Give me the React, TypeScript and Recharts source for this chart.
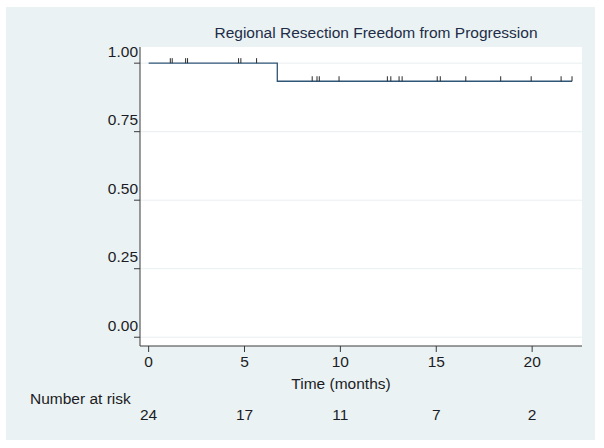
import React from 'react';
import { ComposedChart, Line, Scatter, XAxis, YAxis, CartesianGrid } from 'recharts';

// Kaplan-Meier step points (time in months, survival)
const stepTimes = [0, 6.71, 22.08];
const stepSurv = [1, 0.934, 0.934];

// censored observations (months)
const censorTimes = [
  1.13, 1.23, 1.93, 2.03, 4.69, 4.81, 5.63,
  8.53, 8.78, 8.9, 9.93, 12.45, 12.63, 13.06, 13.22,
  15.05, 15.21, 16.54, 18.36, 19.95, 21.51, 22.08,
];

const xTicks = [0, 5, 10, 15, 20];
const atRisk = [24, 17, 11, 7, 2];
const yTicks = [0, 0.25, 0.5, 0.75, 1];

const FONT = 'Arial, "Liberation Sans", sans-serif';
const BG = '#eaf2f3';
const TEXT = '#1c1c24';

const survAt = (t: number) => {
  let s = stepSurv[0];
  stepTimes.forEach((st, i) => {
    if (st <= t) s = stepSurv[i];
  });
  return s;
};

const kmData = stepTimes.map((t, i) => ({ t, s: stepSurv[i] }));
const censorData = censorTimes.map(t => ({ t, s: survAt(t) }));

const CensorMark = (props: any) => {
  const { cx, cy } = props;
  return <line x1={cx} x2={cx} y1={cy} y2={cy - 5} stroke="#2a2a2a" strokeWidth={1} />;
};

const XTick = (props: any) => {
  const { x, y, payload } = props;
  const idx = xTicks.indexOf(payload.value);
  return (
    <g>
      <text x={x} y={y} dy="0.71em" textAnchor="middle" fontSize={15.5} fontFamily={FONT} fill={TEXT}>
        {payload.value}
      </text>
      <text x={x} y={y + 53} dy="0.71em" textAnchor="middle" fontSize={15.5} fontFamily={FONT} fill={TEXT}>
        {idx >= 0 ? atRisk[idx] : ''}
      </text>
    </g>
  );
};

const YTick = (props: any) => {
  const { y, payload } = props;
  return (
    <text x={138} y={y - 12} dominantBaseline="central" textAnchor="end" fontSize={15.5} fontFamily={FONT} fill={TEXT}>
      {payload.value.toFixed(2)}
    </text>
  );
};

const label = (text: string, x: number, y: number, color: string, anchor: 'center' | 'left' = 'center') => (
  <div
    style={{
      position: 'absolute',
      left: x,
      top: y,
      transform: anchor === 'center' ? 'translate(-50%, -50%)' : 'translate(0, -50%)',
      fontFamily: FONT,
      fontSize: 15.5,
      color,
      whiteSpace: 'nowrap',
    }}
  >
    {text}
  </div>
);

export default function App() {
  return (
    <div style={{ position: 'absolute', left: 0, top: 0, width: 604, height: 448, background: '#ffffff' }}>
      <div style={{ position: 'absolute', left: 6, top: 7, width: 589, height: 433, background: BG }} />
      <div style={{ position: 'absolute', left: 0, top: 0 }}>
        <ComposedChart width={604} height={448} margin={{ top: 47, right: 22, bottom: 72, left: 80 }}>
          <CartesianGrid vertical={false} horizontalValues={yTicks} stroke="#e9eff1" fill="#ffffff" />
          <XAxis
            dataKey="t"
            type="number"
            domain={[-0.45, 22.6]}
            ticks={xTicks}
            allowDataOverflow
            height={30}
            tickSize={6}
            tickMargin={4}
            stroke="#3a3a3a"
            tick={<XTick />}
          />
          <YAxis
            dataKey="s"
            type="number"
            domain={[-0.032, 1.059]}
            ticks={yTicks}
            allowDataOverflow
            width={60}
            tickSize={6}
            stroke="#3a3a3a"
            tick={<YTick />}
          />
          <Line
            data={kmData}
            dataKey="s"
            type="stepAfter"
            stroke="#2f5577"
            strokeWidth={1.3}
            dot={false}
            isAnimationActive={false}
          />
          <Scatter data={censorData} dataKey="s" shape={<CensorMark />} isAnimationActive={false} />
        </ComposedChart>
      </div>
      {label('Regional Resection Freedom from Progression', 376, 33, '#1e2d48')}
      {label('Time (months)', 341, 384, TEXT)}
      {label('Number at risk', 30, 399, TEXT, 'left')}
    </div>
  );
}
